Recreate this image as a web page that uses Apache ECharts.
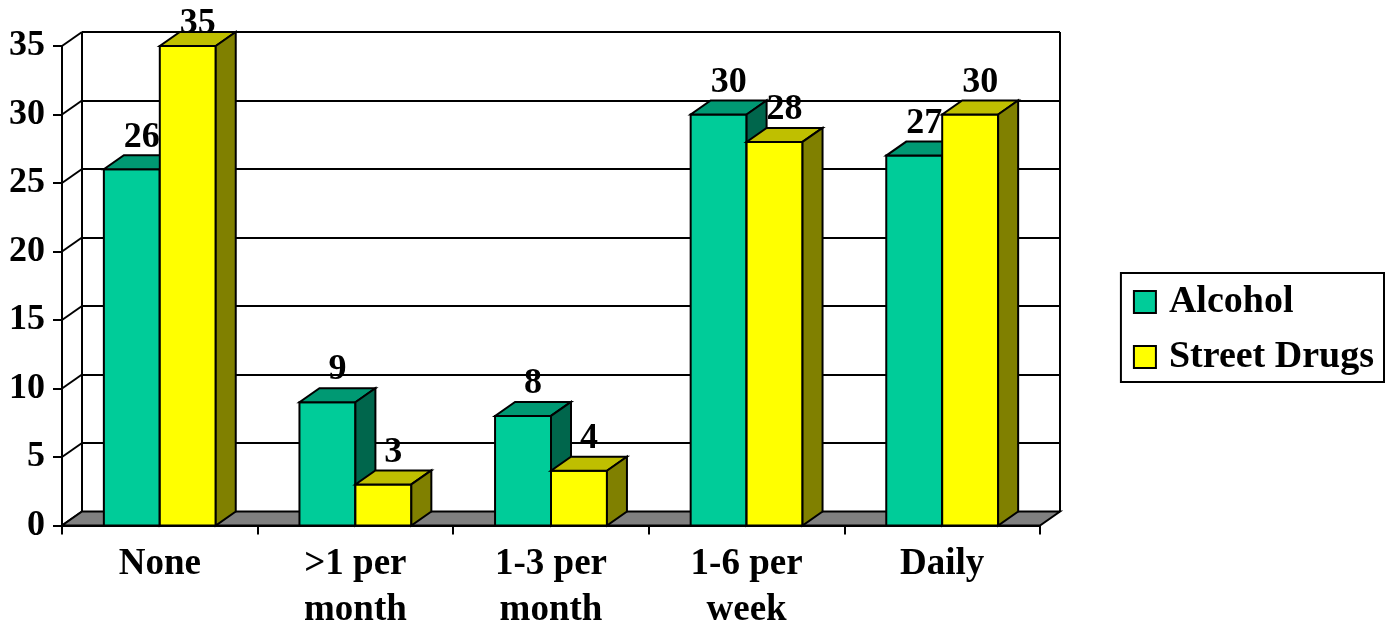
<!DOCTYPE html>
<html>
<head>
<meta charset="utf-8">
<title>Alcohol and Street Drugs use frequency</title>
<script src="https://cdn.jsdelivr.net/npm/echarts@6/dist/echarts.min.js"></script>
<style>
  html, body { margin: 0; padding: 0; background: #ffffff; }
  #chart { width: 1391px; height: 629px; }
</style>
</head>
<body>
<div id="chart"></div>
<script>
// Frequency categories and the two series plotted against them
const categories = ['None', '>1 per\nmonth', '1-3 per\nmonth', '1-6 per\nweek', 'Daily'];
const alcohol = [26, 9, 8, 30, 27];
const streetDrugs = [35, 3, 4, 28, 30];
const yTicks = [0, 5, 10, 15, 20, 25, 30, 35];

// Oblique projection used for the 3D look (pixels)
const DX = 20, DY = -14;
const FONT = "'Liberation Serif', 'Times New Roman', serif";
const BAR_RATIO = 0.286;
const LABEL_MIN_Y = 24; // keep value labels inside the canvas

const palette = {
  alcohol: { front: '#00CC99', top: '#009973', side: '#00664C' },
  street:  { front: '#FFFF00', top: '#BFBF00', side: '#808000' }
};

function barRenderer(colors, side, z2) {
  return function (params, api) {
    const i = api.value(0), v = api.value(1);
    const top = api.coord([i, v]);
    const base = api.coord([i, 0]);
    const band = api.size([1, 0])[0];
    const w = band * BAR_RATIO;
    const x0 = side === 0 ? top[0] - w : top[0];
    const yT = top[1], yB = base[1];
    const stroke = { stroke: '#000', lineWidth: 2, lineJoin: 'miter' };
    return {
      type: 'group',
      children: [
        { type: 'rect', z2: z2, shape: { x: x0, y: yT, width: w, height: yB - yT },
          style: Object.assign({ fill: colors.front }, stroke) },
        { type: 'polygon', z2: z2, shape: { points: [[x0, yT], [x0 + w, yT], [x0 + w + DX, yT + DY], [x0 + DX, yT + DY]] },
          style: Object.assign({ fill: colors.top }, stroke) },
        { type: 'polygon', z2: z2, shape: { points: [[x0 + w, yT], [x0 + w + DX, yT + DY], [x0 + w + DX, yB + DY], [x0 + w, yB]] },
          style: Object.assign({ fill: colors.side }, stroke) },
        { type: 'text', z2: 100, style: {
            text: String(v), x: x0 + w / 2 + DX / 2, y: Math.max(yT + DY - 18, LABEL_MIN_Y),
            align: 'center', verticalAlign: 'middle',
            font: 'bold 36px ' + FONT, fill: '#000' } }
      ]
    };
  };
}

const chart = echarts.init(document.getElementById('chart'), null, { renderer: 'canvas' });

chart.setOption({
  animation: false,
  backgroundColor: '#ffffff',
  legend: {
    data: ['Alcohol', 'Street Drugs'],
    orient: 'vertical',
    right: 7,
    top: 273,
    padding: [10, 10, 6, 12],
    itemGap: 17,
    itemWidth: 22,
    itemHeight: 22,
    icon: 'rect',
    borderColor: '#000',
    borderWidth: 2,
    backgroundColor: '#fff',
    itemStyle: { borderColor: '#000', borderWidth: 2 },
    textStyle: { fontFamily: FONT, fontWeight: 'bold', fontSize: 38, color: '#000', padding: [0, 0, 0, 8] },
    selectedMode: false
  },
  grid: [
    { left: 62, right: 351, top: 46, bottom: 103.5, outerBoundsMode: 'none', containLabel: false },
    { left: 82, right: 331, top: 32, bottom: 117.5, outerBoundsMode: 'none', containLabel: false }
  ],
  xAxis: [
    {
      type: 'category', gridIndex: 0, data: categories, boundaryGap: true,
      axisLine: { show: true, lineStyle: { color: '#000', width: 2 } },
      axisTick: { show: true, length: 9, lineStyle: { color: '#000', width: 2 } },
      axisLabel: { fontFamily: FONT, fontWeight: 'bold', fontSize: 37, color: '#000', margin: 16, lineHeight: 46, interval: 0 },
      splitLine: { show: false }
    },
    {
      type: 'value', gridIndex: 1, min: 0, max: 1, interval: 1,
      axisLine: { show: false }, axisTick: { show: false }, axisLabel: { show: false },
      splitLine: { show: true, lineStyle: { color: '#000', width: 2 } }
    }
  ],
  yAxis: [
    {
      type: 'value', gridIndex: 0, min: yTicks[0], max: yTicks[yTicks.length - 1], interval: yTicks[1] - yTicks[0],
      axisLine: { show: true, lineStyle: { color: '#000', width: 2 } },
      axisTick: { show: true, length: 9, lineStyle: { color: '#000', width: 2 } },
      axisLabel: { fontFamily: FONT, fontWeight: 'bold', fontSize: 36, color: '#000', margin: 17 },
      splitLine: { show: false }
    },
    {
      type: 'value', gridIndex: 1, min: yTicks[0], max: yTicks[yTicks.length - 1], interval: yTicks[1] - yTicks[0],
      axisLine: { show: false }, axisTick: { show: false }, axisLabel: { show: false },
      splitLine: { show: true, lineStyle: { color: '#000', width: 2 } }
    }
  ],
  series: [
    {
      // left side wall: receding lines from each value tick to the back wall
      name: 'wall', type: 'custom', xAxisIndex: 0, yAxisIndex: 0, silent: true,
      data: yTicks.map(v => [0, v]),
      renderItem: function (params, api) {
        const p = api.coord([0, api.value(1)]);
        const x = p[0] - api.size([1, 0])[0] / 2;
        return { type: 'line', z2: 0, shape: { x1: x, y1: p[1], x2: x + DX, y2: p[1] + DY },
                 style: { stroke: '#000', lineWidth: 2 } };
      }
    },
    {
      // floor of the plot
      name: 'floor', type: 'custom', xAxisIndex: 0, yAxisIndex: 0, silent: true,
      data: [[0, 0]],
      renderItem: function (params, api) {
        const half = api.size([1, 0])[0] / 2;
        const a = api.coord([0, 0]), b = api.coord([categories.length - 1, 0]);
        const xl = a[0] - half, xr = b[0] + half, y = a[1];
        return { type: 'polygon', z2: 1,
                 shape: { points: [[xl, y], [xr, y], [xr + DX, y + DY], [xl + DX, y + DY]] },
                 style: { fill: '#808080', stroke: '#000', lineWidth: 2 } };
      }
    },
    {
      name: 'Alcohol', type: 'custom', xAxisIndex: 0, yAxisIndex: 0,
      itemStyle: { color: palette.alcohol.front },
      data: alcohol.map((v, i) => [i, v]),
      encode: { x: 0, y: 1 },
      renderItem: barRenderer(palette.alcohol, 0, 5)
    },
    {
      name: 'Street Drugs', type: 'custom', xAxisIndex: 0, yAxisIndex: 0,
      itemStyle: { color: palette.street.front },
      data: streetDrugs.map((v, i) => [i, v]),
      encode: { x: 0, y: 1 },
      renderItem: barRenderer(palette.street, 1, 6)
    }
  ]
});
</script>
</body>
</html>
